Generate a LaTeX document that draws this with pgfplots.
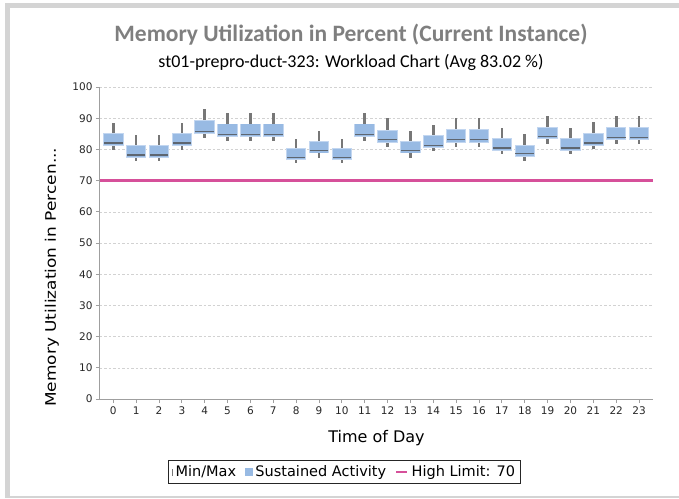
\documentclass[border=0pt]{standalone}
\usepackage{fontspec}
\setmainfont{DejaVu Sans}
\newfontfamily\calibri{Carlito}
\newfontfamily\wide[FakeStretch=1.17]{DejaVu Sans}
\usepackage{pgfplots}
\usepackage{pgfplotstable}
\pgfplotsset{compat=1.18}

\definecolor{boxblue}{HTML}{98BAE3}
\definecolor{boxedge}{HTML}{C2D6F0}
\definecolor{medgray}{HTML}{5E6670}
\definecolor{whisk}{HTML}{777777}
\definecolor{limitpink}{HTML}{D6509A}
\definecolor{titlegray}{HTML}{7F7F7F}
\definecolor{framegray}{HTML}{D4D4D4}

% hour, min, box bottom, median, box top, max
\pgfplotstableread{
h  lw   q1   med  q3   uw
0  79.9 81.4 82.0 85.0 88.4
1  76.4 77.6 78.2 81.0 84.5
2  76.4 77.6 78.2 81.0 84.5
3  79.9 81.4 82.0 85.0 88.4
4  83.7 85.2 85.8 89.0 92.8
5  82.8 84.2 84.8 88.0 91.8
6  82.8 84.2 84.8 88.0 91.8
7  82.8 84.2 84.8 88.0 91.8
8  75.5 76.9 77.5 80.1 83.4
9  77.4 79.0 79.6 82.3 85.9
10 75.5 76.9 77.5 80.1 83.4
11 82.8 84.2 84.8 88.0 91.8
12 80.8 82.5 83.1 86.0 90.0
13 77.4 79.0 79.6 82.3 85.9
14 79.4 80.7 81.3 84.2 87.9
15 80.8 82.5 83.1 86.1 90.0
16 80.8 82.5 83.1 86.1 90.0
17 78.4 79.9 80.5 83.2 86.9
18 76.4 78.0 78.6 81.2 85.0
19 81.8 83.5 84.1 87.0 90.8
20 78.4 79.9 80.5 83.2 86.9
21 80.2 81.5 82.1 85.0 88.9
22 81.8 83.3 83.9 87.0 90.8
23 81.8 83.3 83.9 87.0 90.8
}\mem

\begin{document}
\begin{tikzpicture}
\useasboundingbox (-100pt,-99pt) rectangle (579pt,399pt);
% light grey frame of the panel
\fill[framegray] (-95pt,396pt) rectangle (579pt,391pt);
\fill[framegray] (-95pt,396pt) rectangle (-90pt,-98pt);
\fill[framegray] (-95pt,-96.5pt) rectangle (579pt,-98.5pt);

\node[font=\calibri\bfseries\fontsize{23.5}{28}\selectfont, text=titlegray] at (251pt,364pt)
  {Memory Utilization in Percent (Current Instance)};
\node[font=\calibri\fontsize{18}{21}\selectfont] at (251pt,337pt)
  {st01-prepro-duct-323: Workload Chart (Avg 83.02 \%)};

\begin{axis}[
    at={(0pt,0pt)}, anchor=south west,
    scale only axis,
    width=553pt, height=312pt,
    xmin=-0.58, xmax=23.61, ymin=0, ymax=100,
    xtick={0,...,23}, ytick={0,10,...,100},
    axis x line=bottom, axis y line=left,
    axis line style={-, draw=gray!75, line width=1pt},
    tick style={draw=gray!75, line width=0.8pt},
    tick align=outside, major tick length=4pt,
    ymajorgrids,
    grid style={dash pattern=on 2.5pt off 2pt, draw=gray!35, line width=0.6pt},
    ticklabel style={font=\fontsize{10.5}{12}\selectfont, text=black!85},
    /pgf/number format/assume math mode=true,
    xlabel={Time of Day},
    xlabel style={font=\fontsize{16}{19}\selectfont, at={(axis description cs:0.5,-0.125)}, anchor=center},
    ylabel={Memory Utilization in Percen...},
    ylabel style={font=\wide\fontsize{14.5}{17}\selectfont, at={(axis description cs:-0.087,0.39)}, anchor=center},
    legend style={at={(0.442,-0.234)}, anchor=center, legend columns=-1,
        draw=black!85, line width=0.8pt, font=\fontsize{14.5}{16}\selectfont, inner sep=3pt,
        /tikz/every odd column/.append style={column sep=1pt},
        /tikz/every even column/.append style={column sep=7pt}},
]
% whiskers (min/max)
\addplot[forget plot, draw=none, mark=none,
    error bars/.cd, y dir=both, y explicit, error mark=none,
    error bar style={draw=whisk, line width=2.6pt}]
  table[x=h, y=med, y error plus expr=\thisrow{uw}-\thisrow{med},
        y error minus expr=\thisrow{med}-\thisrow{lw}] {\mem};
% box glow
\addplot[forget plot, draw=none, mark=none,
    error bars/.cd, y dir=plus, y explicit, error mark=none,
    error bar style={draw=boxedge, line width=20.5pt}]
  table[x=h, y expr=\thisrow{q1}-0.3, y error plus expr=\thisrow{q3}-\thisrow{q1}+0.6] {\mem};
% boxes (sustained activity)
\addplot[forget plot, draw=none, mark=none,
    error bars/.cd, y dir=plus, y explicit, error mark=none,
    error bar style={draw=boxblue, line width=18.5pt}]
  table[x=h, y=q1, y error plus expr=\thisrow{q3}-\thisrow{q1}] {\mem};
% medians
\addplot[forget plot, only marks, mark=-, mark size=9.3pt,
    mark options={draw=medgray, line width=1.4pt}]
  table[x=h, y=med] {\mem};

% high limit
\addplot[forget plot, limitpink, line width=2.5pt] coordinates {(-0.58,70) (23.61,70)};

\addlegendimage{legend image code/.code={\draw[whisk, line width=0.7pt] (2pt,-3.5pt) -- (2pt,3.5pt);}}
\addlegendentry{Min/Max}
\addlegendimage{legend image code/.code={\fill[boxblue] (0pt,-3.2pt) rectangle (6.5pt,3.2pt);}}
\addlegendentry{Sustained Activity}
\addlegendimage{legend image code/.code={\draw[limitpink, line width=2.5pt] (0pt,0pt) -- (11pt,0pt);}}
\addlegendentry{High Limit: 70}
\end{axis}
\end{tikzpicture}
\end{document}
